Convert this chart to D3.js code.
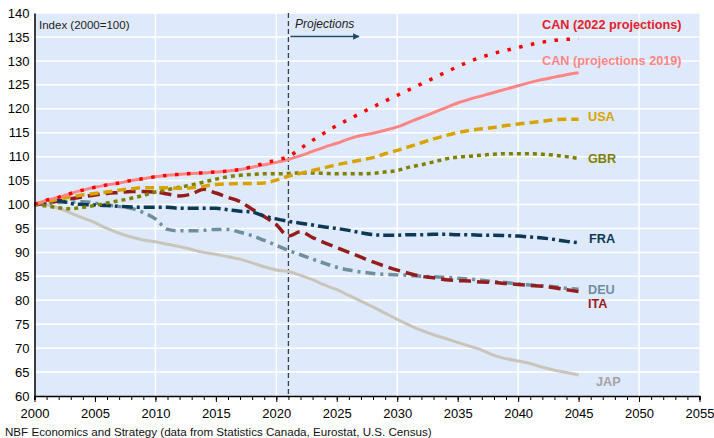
<!DOCTYPE html>
<html>
<head>
<meta charset="utf-8">
<script src="https://cdn.jsdelivr.net/npm/d3@7"></script>
<style>
  html, body { margin: 0; padding: 0; background: #ffffff; }
  svg { display: block; font-family: "Liberation Sans", Arial, sans-serif; }
</style>
</head>
<body>
<svg id="chart" width="714" height="438"></svg>
<script>
// ---------------- DATA ----------------
const years = [2000,2001,2002,2003,2004,2005,2006,2007,2008,2009,2010,2011,2012,2013,2014,2015,2016,2017,2018,2019,2020,2021,2022,2023,2024,2025,2026,2027,2028,2029,2030,2031,2032,2033,2034,2035,2036,2037,2038,2039,2040,2041,2042,2043,2044,2045];

const can2022 = [100,100.9,101.5,102.3,103.0,103.6,104.1,104.5,105.0,105.4,105.8,106.1,106.3,106.5,106.6,106.8,107.0,107.3,107.9,108.6,109.3,110.0,111.7,113.4,115.0,116.5,117.8,119.1,120.4,121.6,122.8,124.0,125.2,126.4,127.6,128.8,129.9,130.8,131.6,132.2,132.8,133.4,133.9,134.3,134.5,134.6];
const can2019 = [100,100.9,101.5,102.3,103.0,103.6,104.1,104.5,105.0,105.4,105.8,106.1,106.3,106.5,106.6,106.8,107.0,107.3,107.8,108.3,108.8,109.4,110.2,111.1,112.0,112.8,113.7,114.4,114.9,115.5,116.2,117.2,118.2,119.2,120.2,121.2,122.0,122.7,123.4,124.1,124.8,125.5,126.1,126.6,127.1,127.5];
const usa = [100,100.6,101.1,101.6,102.0,102.3,102.6,103.0,103.3,103.5,103.5,103.5,103.4,103.5,103.8,104.2,104.3,104.4,104.4,104.5,105.1,105.9,106.5,107.1,107.7,108.3,108.8,109.3,109.8,110.6,111.3,112.1,112.9,113.7,114.4,115.0,115.5,115.8,116.1,116.5,116.8,117.1,117.4,117.7,117.8,117.8];
const gbr = [100,99.7,99.3,99.1,99.4,99.8,100.3,100.8,101.3,101.9,102.6,103.1,103.6,104.1,104.7,105.3,105.8,106.1,106.3,106.4,106.4,106.5,106.6,106.6,106.5,106.4,106.4,106.4,106.5,106.8,107.1,107.8,108.3,108.9,109.5,109.9,110.1,110.3,110.5,110.6,110.6,110.6,110.5,110.3,110.0,109.6];
const fra = [100,100.5,100.8,100.2,100.0,99.9,99.8,99.6,99.5,99.4,99.4,99.4,99.2,99.2,99.2,99.2,98.9,98.6,98.4,97.6,97.0,96.5,96.1,95.7,95.3,95.0,94.6,94.1,93.7,93.6,93.6,93.7,93.7,93.8,93.8,93.7,93.7,93.6,93.6,93.5,93.4,93.2,93.0,92.7,92.3,92.0];
const deu = [100,100.2,100.4,100.5,100.6,100.3,99.9,99.6,99.2,98.3,97.0,94.8,94.5,94.5,94.6,94.8,94.8,94.2,93.5,92.5,91.5,90.4,89.5,88.6,87.7,86.9,86.3,85.9,85.6,85.4,85.3,85.2,85.0,84.9,84.8,84.6,84.4,84.2,83.9,83.7,83.4,83.2,83.0,82.8,82.5,82.3];
const ita = [100,100.3,100.7,101.2,101.6,102.0,102.3,102.5,102.7,102.7,102.6,102.2,101.8,102.2,103.2,102.4,101.5,100.6,99.0,97.5,95.8,93.4,94.3,93.1,92.0,91.0,90.0,89.0,88.0,87.1,86.3,85.6,85.0,84.7,84.3,84.1,84.0,83.8,83.7,83.5,83.3,83.1,82.9,82.6,82.2,81.8];
const jap = [100,99.9,99.2,98.2,97.2,96.2,95.0,94.0,93.2,92.6,92.2,91.7,91.2,90.6,90.0,89.6,89.1,88.6,87.8,87.0,86.3,86.0,85.2,84.3,83.2,82.2,81.0,79.8,78.6,77.3,76.0,74.8,73.7,72.8,72.0,71.2,70.4,69.6,68.5,67.8,67.3,66.8,66.0,65.4,64.9,64.4];

const xTickLabels = [2000,2005,2010,2015,2020,2025,2030,2035,2040,2045,2050,2055];
const yTickLabels = [60,65,70,75,80,85,90,95,100,105,110,115,120,125,130,135,140];
const projectionYear = 2021;

const seriesNames = ["CAN (2022 projections)","CAN (projections 2019)","USA","GBR","FRA","DEU","ITA","JAP"];
const seriesValues = [can2022, can2019, usa, gbr, fra, deu, ita, jap];

// ---------------- STYLE ----------------
const styles = {
  "JAP":                    {color:"#c9c5bb", label:"#a3a3a3", width:3,   dash:null,        lx:596, ly:386},
  "DEU":                    {color:"#6f8fa1", label:"#6f8fa1", width:3.5, dash:"10,5,3,5",  lx:588, ly:294},
  "ITA":                    {color:"#951c1c", label:"#9b1b1b", width:3.5, dash:"12,6",      lx:588, ly:308},
  "FRA":                    {color:"#0c3a55", label:"#0c3a55", width:3.5, dash:"11,4,3,4",  lx:589, ly:243},
  "GBR":                    {color:"#808000", label:"#808000", width:3.5, dash:"4,4",       lx:588, ly:163},
  "USA":                    {color:"#d8a300", label:"#d8a300", width:3.5, dash:"9,5",       lx:588, ly:121},
  "CAN (projections 2019)": {color:"#ff8585", label:"#ff8585", width:3,   dash:null,        lx:542, ly:65},
  "CAN (2022 projections)": {color:"#ff0000", label:"#e3202b", width:3.5, dash:"3.5,8.5",   lx:542, ly:29}
};
const drawOrder = ["JAP","DEU","ITA","FRA","GBR","USA","CAN (projections 2019)","CAN (2022 projections)"];

// ---------------- CHART ----------------
const svg = d3.select("#chart");
const pLeft = 34.5, pRight = 699.5, pTop = 13, pBottom = 396;

const x = d3.scaleLinear().domain([2000, 2055]).range([pLeft, pRight]);
const y = d3.scaleLinear().domain([60, 140]).range([pBottom, pTop]);

// plot background
svg.append("rect")
  .attr("x", pLeft).attr("y", pTop)
  .attr("width", pRight - pLeft).attr("height", pBottom - pTop)
  .attr("fill", "#deeafb");

// grid lines
svg.append("g").selectAll("line").data(yTickLabels.filter(v => v > 60))
  .join("line")
  .attr("x1", pLeft).attr("x2", pRight)
  .attr("y1", d => y(d)).attr("y2", d => y(d))
  .attr("stroke", "#ffffff").attr("stroke-width", 1.5);

svg.append("g").selectAll("line").data(xTickLabels.filter(v => v % 10 === 0 && v > 2000))
  .join("line")
  .attr("x1", d => x(d)).attr("x2", d => x(d))
  .attr("y1", pTop).attr("y2", pBottom)
  .attr("stroke", "#ffffff").attr("stroke-width", 1.5);

// projection line
svg.append("line")
  .attr("x1", x(projectionYear)).attr("x2", x(projectionYear))
  .attr("y1", pTop).attr("y2", pBottom)
  .attr("stroke", "#3c3c46").attr("stroke-width", 1.3)
  .attr("stroke-dasharray", "5,3");

// series lines
const line = d3.line().x((d, i) => x(years[i])).y(d => y(d)).curve(d3.curveMonotoneX);
drawOrder.forEach(name => {
  const idx = seriesNames.indexOf(name);
  const st = styles[name];
  svg.append("path")
    .datum(seriesValues[idx])
    .attr("d", line)
    .attr("fill", "none")
    .attr("stroke", st.color)
    .attr("stroke-width", st.width)
    .attr("stroke-dasharray", st.dash)
    .attr("stroke-linecap", "butt")
    .attr("stroke-linejoin", "round");
});

// series labels
seriesNames.forEach(name => {
  const st = styles[name];
  svg.append("text")
    .attr("x", st.lx).attr("y", st.ly)
    .attr("fill", st.label)
    .attr("font-size", 12.7).attr("font-weight", "bold")
    .text(name);
});

// axes
const minorYears = years.concat([2046,2047,2048,2049,2050,2051,2052,2053,2054,2055]);
const xAxis = d3.axisBottom(x).tickValues(minorYears).tickSize(4).tickFormat("");
const gx = svg.append("g").attr("transform", `translate(0,${pBottom})`).call(xAxis);
gx.select(".domain").attr("stroke", "#000").attr("stroke-width", 1.5);
gx.selectAll(".tick line").attr("stroke", "#000").attr("stroke-width", 1);

const gxl = svg.append("g").attr("transform", `translate(0,${pBottom})`)
  .call(d3.axisBottom(x).tickValues(xTickLabels).tickSize(6).tickPadding(7).tickFormat(d3.format("d")));
gxl.select(".domain").remove();
gxl.selectAll(".tick line").attr("stroke", "#000").attr("stroke-width", 1);
gxl.selectAll("text").attr("font-size", 13).attr("fill", "#000")
  .attr("font-family", "Liberation Sans, Arial, sans-serif");

const gy = svg.append("g").attr("transform", `translate(${pLeft},0)`)
  .call(d3.axisLeft(y).tickValues(yTickLabels).tickSize(0).tickPadding(5).tickFormat(d3.format("d")));
gy.select(".domain").attr("stroke", "#000").attr("stroke-width", 1.5);
gy.selectAll("text").attr("font-size", 13).attr("fill", "#000")
  .attr("font-family", "Liberation Sans, Arial, sans-serif");

// annotations
svg.append("text").attr("x", 39).attr("y", 29)
  .attr("font-size", 11.5).attr("fill", "#222").text("Index (2000=100)");

svg.append("text").attr("x", 295).attr("y", 28)
  .attr("font-size", 12).attr("font-style", "italic").attr("fill", "#222").text("Projections");

svg.append("defs").append("marker")
  .attr("id", "arr").attr("viewBox", "0 0 10 10")
  .attr("refX", 9).attr("refY", 5)
  .attr("markerWidth", 5).attr("markerHeight", 5)
  .attr("orient", "auto")
  .append("path").attr("d", "M0,0 L10,5 L0,10 z").attr("fill", "#1c4966");

svg.append("line")
  .attr("x1", x(projectionYear) + 2).attr("x2", 359)
  .attr("y1", 36.5).attr("y2", 36.5)
  .attr("stroke", "#1c4966").attr("stroke-width", 1.3)
  .attr("marker-end", "url(#arr)");

svg.append("text").attr("x", 5).attr("y", 436)
  .attr("font-size", 11.6).attr("fill", "#111")
  .text("NBF Economics and Strategy (data from Statistics Canada, Eurostat, U.S. Census)");
</script>
</body>
</html>
